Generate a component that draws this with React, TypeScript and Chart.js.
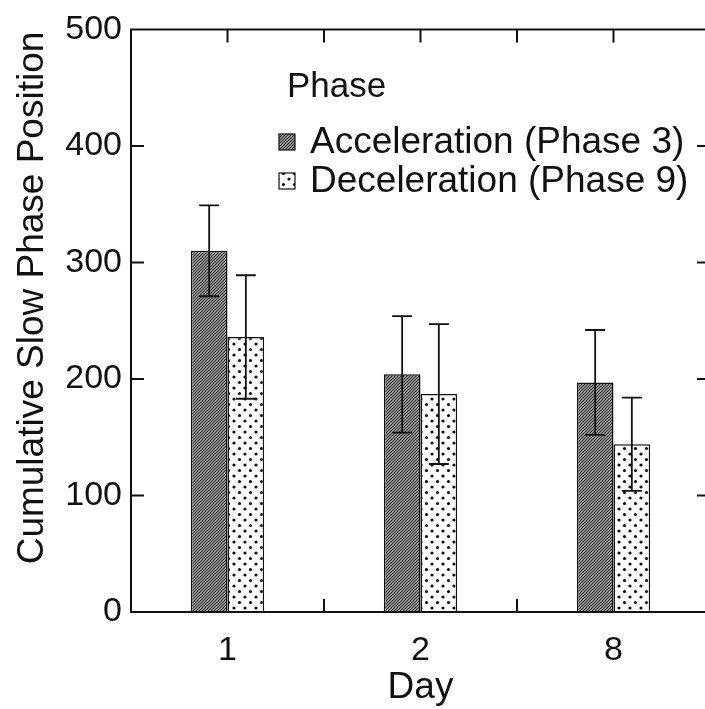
import { useEffect, useRef } from "react";
import { Chart, registerables } from "chart.js";

Chart.register(...registerables);

// Day groups on the category axis
const days = ["1", "2", "8"];
// Mean cumulative slow phase position and its error (± half-range)
const accelMeans = [310, 204, 197];
const accelErrors = [39, 50, 45];
const decelMeans = [236, 187, 144];
const decelErrors = [53, 60, 40];
// Value axis ticks
const yTicks = [0, 100, 200, 300, 400, 500];
const seriesLabels = ["Acceleration (Phase 3)", "Deceleration (Phase 9)"];
const legendTitle = "Phase";
const xTitle = "Day";
const yTitle = "Cumulative Slow Phase Position";

const FONT = "'Liberation Sans', Arial, Helvetica, sans-serif";
const INK = "#111";

function makeHatch(ctx: CanvasRenderingContext2D) {
  const t = document.createElement("canvas");
  t.width = 3;
  t.height = 3;
  const c = t.getContext("2d")!;
  c.fillStyle = "#8a8a8a";
  c.fillRect(0, 0, 3, 3);
  c.strokeStyle = "#3a3a3a";
  c.lineWidth = 1;
  c.beginPath();
  c.moveTo(-1, 4);
  c.lineTo(4, -1);
  c.moveTo(-1, 1);
  c.lineTo(1, -1);
  c.moveTo(2, 4);
  c.lineTo(4, 2);
  c.stroke();
  return ctx.createPattern(t, "repeat")!;
}

function makeDots(ctx: CanvasRenderingContext2D) {
  const t = document.createElement("canvas");
  t.width = 11;
  t.height = 11;
  const c = t.getContext("2d")!;
  c.fillStyle = "#fff";
  c.fillRect(0, 0, 11, 11);
  c.fillStyle = "#111";
  for (const [x, y] of [
    [3, 3],
    [8.5, 8.5],
  ]) {
    c.beginPath();
    c.arc(x, y, 1.6, 0, Math.PI * 2);
    c.fill();
  }
  return ctx.createPattern(t, "repeat")!;
}

const errorBars = {
  id: "errorBars",
  afterDatasetsDraw(chart: any) {
    const { ctx } = chart;
    const y = chart.scales.y;
    const errs = [accelErrors, decelErrors];
    ctx.save();
    ctx.strokeStyle = INK;
    ctx.lineWidth = 1.8;
    chart.data.datasets.forEach((ds: any, i: number) => {
      const meta = chart.getDatasetMeta(i);
      meta.data.forEach((bar: any, j: number) => {
        const v = ds.data[j];
        const e = errs[i][j];
        const top = y.getPixelForValue(v + e);
        const bot = y.getPixelForValue(v - e);
        const x = bar.x;
        ctx.beginPath();
        ctx.moveTo(x, top);
        ctx.lineTo(x, bot);
        ctx.moveTo(x - 10, top);
        ctx.lineTo(x + 10, top);
        ctx.moveTo(x - 10, bot);
        ctx.lineTo(x + 10, bot);
        ctx.stroke();
      });
    });
    ctx.restore();
  },
};

const frameAndTicks = {
  id: "frameAndTicks",
  afterDraw(chart: any) {
    const { ctx, chartArea: a } = chart;
    const xs = chart.scales.x;
    const ys = chart.scales.y;
    const tick = 13;
    ctx.save();
    ctx.strokeStyle = INK;
    ctx.lineWidth = 2;
    ctx.beginPath();
    ctx.rect(a.left, a.top, a.right - a.left, a.bottom - a.top);
    ctx.stroke();

    ctx.beginPath();
    // value ticks, pointing inward on both sides
    yTicks.slice(1, -1).forEach((v) => {
      const py = ys.getPixelForValue(v);
      ctx.moveTo(a.left, py);
      ctx.lineTo(a.left + tick, py);
      ctx.moveTo(a.right, py);
      ctx.lineTo(a.right - tick, py);
    });
    // category ticks: boundaries at the bottom, centres and boundaries on top
    const half = (xs.getPixelForValue(1) - xs.getPixelForValue(0)) / 2;
    days.forEach((_d, i) => {
      const cx = xs.getPixelForValue(i);
      ctx.moveTo(cx, a.top);
      ctx.lineTo(cx, a.top + tick);
      if (i < days.length - 1) {
        const bx = cx + half;
        ctx.moveTo(bx, a.top);
        ctx.lineTo(bx, a.top + tick);
        ctx.moveTo(bx, a.bottom);
        ctx.lineTo(bx, a.bottom - tick);
      }
    });
    ctx.stroke();

    // axis titles
    ctx.fillStyle = INK;
    ctx.font = `37px ${FONT}`;
    ctx.textAlign = "center";
    ctx.textBaseline = "alphabetic";
    ctx.fillText(xTitle, (a.left + a.right) / 2, 698);
    ctx.save();
    ctx.translate(43, 298);
    ctx.rotate(-Math.PI / 2);
    ctx.fillText(yTitle, 0, 0);
    ctx.restore();

    // legend
    ctx.textAlign = "left";
    ctx.font = `35px ${FONT}`;
    ctx.fillText(legendTitle, 287, 97);
    ctx.font = `37px ${FONT}`;
    chart.data.datasets.forEach((ds: any, i: number) => {
      const base = 153 + i * 39;
      const sx = 279;
      const sy = base - 19;
      ctx.fillStyle = ds.backgroundColor;
      ctx.fillRect(sx, sy, 16, 16);
      ctx.lineWidth = 1.2;
      ctx.strokeRect(sx, sy, 16, 16);
      ctx.fillStyle = INK;
      ctx.fillText(seriesLabels[i], 310, base);
    });
    ctx.restore();
  },
};

export default function App() {
  const ref = useRef<HTMLCanvasElement>(null);

  useEffect(() => {
    const canvas = ref.current!;
    const ctx = canvas.getContext("2d")!;
    const chart = new Chart(canvas, {
      type: "bar",
      data: {
        labels: days,
        datasets: [
          {
            label: seriesLabels[0],
            data: accelMeans,
            backgroundColor: makeHatch(ctx) as any,
            borderColor: INK,
            borderWidth: 1.5,
          },
          {
            label: seriesLabels[1],
            data: decelMeans,
            backgroundColor: makeDots(ctx) as any,
            borderColor: INK,
            borderWidth: 1.5,
          },
        ],
      },
      options: {
        responsive: false,
        animation: false,
        events: [],
        layout: { padding: { top: 24, right: 2, left: 0, bottom: 0 } },
        datasets: { bar: { categoryPercentage: 0.38, barPercentage: 1 } },
        plugins: {
          legend: { display: false },
          tooltip: { enabled: false },
          title: { display: false },
        },
        scales: {
          x: {
            offset: true,
            grid: { display: false, drawTicks: false },
            border: { display: false },
            ticks: { font: { family: FONT, size: 34 }, color: INK, padding: 18 },
            afterFit: (s: any) => {
              s.height = 97;
            },
          },
          y: {
            min: 0,
            max: 500,
            grid: { display: false, drawTicks: false },
            border: { display: false },
            ticks: { font: { family: FONT, size: 34 }, color: INK, padding: 9 },
            afterBuildTicks: (s: any) => {
              s.ticks = yTicks.map((v) => ({ value: v }));
            },
            afterFit: (s: any) => {
              s.width = 131;
            },
          },
        },
      },
      plugins: [errorBars, frameAndTicks],
    });
    return () => chart.destroy();
  }, []);

  return (
    <div
      style={{
        position: "fixed",
        left: 0,
        top: 0,
        width: 705,
        height: 709,
        overflow: "hidden",
        background: "#fff",
      }}
    >
      <canvas ref={ref} width={712} height={709} style={{ display: "block", width: 712, height: 709 }} />
    </div>
  );
}
